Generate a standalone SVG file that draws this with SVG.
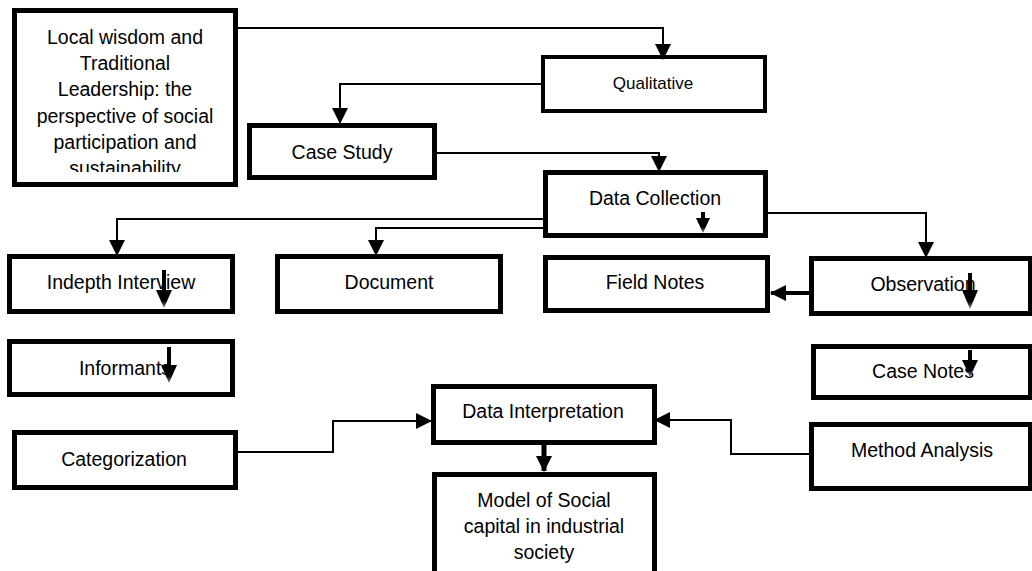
<svg xmlns="http://www.w3.org/2000/svg" width="1032" height="571" viewBox="0 0 1032 571">
<style>
.b{fill:#fff;stroke:#000;stroke-width:5}
.t{font-family:"Liberation Sans",Arial,sans-serif;font-size:19.5px;text-anchor:middle;fill:#000}
.s{font-size:17px}
.c{fill:none;stroke:#000;stroke-width:2}
.k{fill:none;stroke:#000;stroke-width:5}
.sh{fill:#000}
.hd{fill:url(#g)}
</style>
<defs>
<marker id="ah" viewBox="0 0 16 16" refX="15" refY="8" markerWidth="16" markerHeight="16" markerUnits="userSpaceOnUse" orient="auto"><path d="M0,0 L16,8 L0,16 z" fill="#000"/></marker>
<linearGradient id="g" x1="0" y1="0" x2="0" y2="1"><stop offset="0.6" stop-color="#000"/><stop offset="1" stop-color="#8a8a8a"/></linearGradient>
<clipPath id="clipLocal"><rect x="0" y="0" width="1032" height="172"/></clipPath>
</defs>
<rect width="1032" height="571" fill="#fff"/>

<g id="node-local">
<rect class="b" x="14.5" y="10.5" width="221" height="174"/>
<g clip-path="url(#clipLocal)">
<text class="t" x="125" y="44">Local wisdom and</text>
<text class="t" x="125" y="70">Traditional</text>
<text class="t" x="125" y="96">Leadership: the</text>
<text class="t" x="125" y="122.5">perspective of social</text>
<text class="t" x="125" y="149">participation and</text>
<text class="t" x="125" y="175">sustainability</text>
</g>
</g>
<g id="node-qualitative">
<rect class="b" x="543" y="57" width="222" height="54" style="stroke-width:4"/>
<text class="t s" x="653" y="89">Qualitative</text>
</g>
<g id="node-casestudy">
<rect class="b" x="249.5" y="125.5" width="185" height="52"/>
<text class="t" x="342" y="159">Case Study</text>
</g>
<g id="node-datacollection">
<rect class="b" x="545.5" y="172.5" width="220" height="63"/>
<text class="t" x="655" y="205">Data Collection</text>
</g>
<g id="node-indepth">
<rect class="b" x="9.5" y="256.5" width="223" height="55"/>
<text class="t" x="121" y="289">Indepth Interview</text>
</g>
<g id="node-document">
<rect class="b" x="277.5" y="256.5" width="223" height="55"/>
<text class="t" x="389" y="289">Document</text>
</g>
<g id="node-fieldnotes">
<rect class="b" x="545.5" y="257.5" width="222" height="53"/>
<text class="t" x="655" y="289">Field Notes</text>
</g>
<g id="node-observation">
<rect class="b" x="811.5" y="258.5" width="219" height="55"/>
<text class="t" x="923" y="291">Observation</text>
</g>
<g id="node-informants">
<rect class="b" x="9.5" y="341.5" width="223" height="53"/>
<text class="t" x="125" y="375">Informants</text>
</g>
<g id="node-casenotes">
<rect class="b" x="813.5" y="346.5" width="217" height="51"/>
<text class="t" x="923" y="378">Case Notes</text>
</g>
<g id="node-datainterpretation">
<rect class="b" x="433.5" y="386.5" width="221" height="56"/>
<text class="t" x="543" y="418">Data Interpretation</text>
</g>
<g id="node-categorization">
<rect class="b" x="14.5" y="432.5" width="221" height="55"/>
<text class="t" x="124" y="466">Categorization</text>
</g>
<g id="node-method">
<rect class="b" x="811.5" y="424.5" width="219" height="64"/>
<text class="t" x="922" y="457">Method Analysis</text>
</g>
<g id="node-model">
<rect class="b" x="434.5" y="474.5" width="220" height="130"/>
<text class="t" x="544" y="507">Model of Social</text>
<text class="t" x="544" y="533">capital in industrial</text>
<text class="t" x="544" y="559">society</text>
</g>

<g id="connectors">
<path class="c" d="M238,28 H663 V59" marker-end="url(#ah)"/>
<path class="c" d="M541,84 H340 V123" marker-end="url(#ah)"/>
<path class="c" d="M437,153 H659 V171" marker-end="url(#ah)"/>
<path class="c" d="M547,219 H117 V255" marker-end="url(#ah)"/>
<path class="c" d="M543,228 H376 V255" marker-end="url(#ah)"/>
<path class="c" d="M768,213 H926 V257" marker-end="url(#ah)"/>
<path class="c" d="M238,452 H333 V421 H431" marker-end="url(#ah)"/>
<path class="c" d="M809,454 H731 V420 H655" marker-end="url(#ah)"/>
<path class="k" style="stroke-width:4" d="M809,293 H771" marker-end="url(#ah)"/>
<path class="k" d="M544,445 V471" marker-end="url(#ah)"/>
<g id="stray-arrows">
<rect class="sh" x="701" y="212" width="4" height="8"/>
<polygon class="hd" points="696,218 710,218 703,233"/>
<rect class="sh" x="162" y="270" width="4" height="22"/>
<polygon class="hd" points="156,290 172,290 164,308"/>
<rect class="sh" x="167" y="347" width="4" height="20"/>
<polygon class="hd" points="161,365 177,365 169,383"/>
<rect class="sh" x="968" y="273" width="4" height="19"/>
<polygon class="hd" points="962,290 978,290 970,309"/>
<rect class="sh" x="968" y="350" width="4" height="12"/>
<polygon class="hd" points="962,360 978,360 970,377"/>
</g>
</g>
</svg>
